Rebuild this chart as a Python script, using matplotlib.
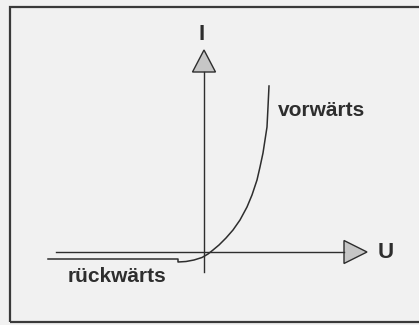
import numpy as np
import matplotlib.pyplot as plt
from matplotlib.patches import Polygon, Rectangle

# Kennlinie einer Diode (Skizze), Einheiten ~ Pixel relativ zum Ursprung
kennlinie_U = [-156, -26, -26, -18, -10, -2, 4, 9, 15, 22, 29, 36, 43, 48, 53, 56, 59, 61, 63, 64, 65]
kennlinie_I = [-7, -7, -10, -9.5, -8, -5.5, -2, 2, 7, 14, 22, 32, 45, 57, 72, 85, 99, 112, 125, 145, 166]

achse_U = [-148, 140]   # x-Achse von/bis (Pfeilbasis)
achse_I = [-20, 180]    # y-Achse von/bis (Pfeilbasis)

labels = {"I": (-2, 217), "U": (182, 0), "vorwärts": (74, 142), "rückwärts": (-136, -25)}

plt.rcParams['font.family'] = ['Liberation Sans', 'DejaVu Sans']
ink = "#2e2e2e"

fig = plt.figure(figsize=(4.19, 3.25), dpi=100)
fig.patch.set_facecolor("#f1f1f1")
ax = fig.add_axes([0, 0, 1, 1])
ax.set_facecolor("#f1f1f1")
ax.set_xlim(-204, 215)
ax.set_ylim(-73, 252)
ax.axis("off")

# Rahmen
ax.add_patch(Rectangle((-194, -70), 440, 315, fill=False, ec="#3a3a3a", lw=1.6))

# Achsen
ax.plot(achse_U, [0, 0], color=ink, lw=1.0)
ax.plot([0, 0], achse_I, color=ink, lw=1.0)
ax.add_patch(Polygon([[achse_U[1], -11.5], [achse_U[1], 11.5], [achse_U[1] + 23, 0]],
                     closed=True, fc="#c6c6c6", ec=ink, lw=1.0))
ax.add_patch(Polygon([[-11.5, achse_I[1]], [11.5, achse_I[1]], [0, achse_I[1] + 22]],
                     closed=True, fc="#c6c6c6", ec=ink, lw=1.0))

# Kennlinie
ax.plot(kennlinie_U, kennlinie_I, color=ink, lw=1.1, solid_joinstyle="round")

for txt, (u, i) in labels.items():
    if len(txt) == 1:
        ax.text(u, i, txt, ha="center", va="center", fontsize=16, fontweight="bold", color=ink)
    else:
        ax.text(u, i, txt, ha="left", va="center", fontsize=15, fontweight="bold", color=ink)

fig.savefig("out.png", dpi=100, facecolor=fig.get_facecolor())
